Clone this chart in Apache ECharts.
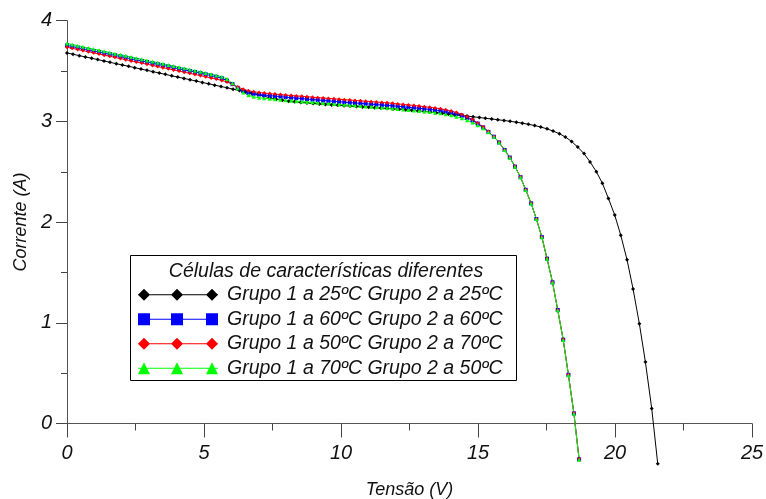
<!DOCTYPE html>
<html>
<head>
<meta charset="utf-8">
<script src="https://cdn.jsdelivr.net/npm/echarts@6/dist/echarts.min.js"></script>
<style>html,body{margin:0;padding:0;background:#fff}#c{width:766px;height:499px}</style>
</head>
<body>
<div id="c"></div>
<script>
const legendTitle = 'Células de características diferentes';
const seriesNames = [
  'Grupo 1 a 25ºC Grupo 2 a 25ºC',
  'Grupo 1 a 60ºC Grupo 2 a 60ºC',
  'Grupo 1 a 50ºC Grupo 2 a 70ºC',
  'Grupo 1 a 70ºC Grupo 2 a 50ºC'
];
const xTicks = [0, 5, 10, 15, 20, 25];
const yTicks = [0, 1, 2, 3, 4];

// Voltage samples (V) of the 25ºC/25ºC curve
const voltsBlack = [0.00,0.22,0.45,0.67,0.90,1.12,1.35,1.57,1.80,2.02,
  2.25,2.47,2.70,2.92,3.14,3.37,3.59,3.82,4.04,4.27,
  4.49,4.72,4.94,5.17,5.39,5.62,5.84,6.06,6.29,6.51,
  6.74,6.96,7.19,7.41,7.64,7.86,8.09,8.31,8.53,8.76,
  8.98,9.21,9.43,9.66,9.88,10.11,10.33,10.56,10.78,11.01,
  11.23,11.45,11.68,11.90,12.13,12.35,12.58,12.80,13.03,13.25,
  13.48,13.70,13.92,14.15,14.37,14.60,14.82,15.05,15.27,15.50,
  15.72,15.95,16.17,16.40,16.62,16.84,17.07,17.29,17.52,17.74,
  17.97,18.19,18.42,18.64,18.87,19.09,19.32,19.54,19.76,19.99,
  20.21,20.44,20.66,20.89,21.11,21.34,21.56];
const ampsG25G25 = [3.680,3.667,3.653,3.640,3.627,3.614,3.600,3.587,3.573,3.560,
  3.547,3.534,3.520,3.507,3.494,3.480,3.467,3.453,3.440,3.427,
  3.414,3.400,3.387,3.373,3.360,3.347,3.334,3.320,3.307,3.294,
  3.280,3.266,3.250,3.234,3.220,3.209,3.200,3.194,3.188,3.183,
  3.178,3.173,3.168,3.164,3.160,3.156,3.152,3.148,3.144,3.140,
  3.136,3.132,3.128,3.124,3.120,3.115,3.110,3.105,3.099,3.093,
  3.087,3.080,3.074,3.067,3.060,3.053,3.046,3.039,3.031,3.024,
  3.017,3.009,3.001,2.992,2.982,2.971,2.959,2.944,2.926,2.904,
  2.878,2.845,2.800,2.745,2.680,2.598,2.500,2.385,2.235,2.070,
  1.870,1.625,1.335,0.990,0.610,0.150,-0.400];

// Voltage samples (V) shared by the three mixed-temperature curves
const voltsMixed = [0.00,0.19,0.39,0.58,0.78,0.97,1.17,1.36,1.56,1.75,
  1.95,2.14,2.34,2.53,2.73,2.92,3.12,3.31,3.50,3.70,
  3.89,4.09,4.28,4.48,4.67,4.87,5.06,5.26,5.45,5.65,
  5.84,6.04,6.23,6.43,6.62,6.81,7.01,7.20,7.40,7.59,
  7.79,7.98,8.18,8.37,8.57,8.76,8.96,9.15,9.35,9.54,
  9.74,9.93,10.12,10.32,10.51,10.71,10.90,11.10,11.29,11.49,
  11.68,11.88,12.07,12.27,12.46,12.66,12.85,13.04,13.24,13.43,
  13.63,13.82,14.02,14.21,14.41,14.60,14.80,14.99,15.19,15.38,
  15.58,15.77,15.97,16.16,16.35,16.55,16.74,16.94,17.13,17.33,
  17.52,17.72,17.91,18.11,18.30,18.50,18.69];
const ampsG60G60 = [3.754,3.743,3.732,3.721,3.710,3.699,3.688,3.677,3.666,3.655,
  3.644,3.633,3.622,3.611,3.599,3.589,3.577,3.567,3.556,3.545,
  3.534,3.522,3.512,3.500,3.490,3.478,3.467,3.455,3.443,3.428,
  3.405,3.370,3.333,3.303,3.285,3.274,3.267,3.261,3.256,3.251,
  3.246,3.241,3.236,3.232,3.227,3.222,3.217,3.213,3.208,3.204,
  3.199,3.195,3.191,3.187,3.183,3.179,3.175,3.171,3.167,3.163,
  3.159,3.155,3.150,3.145,3.140,3.135,3.130,3.125,3.119,3.113,
  3.106,3.097,3.087,3.074,3.057,3.036,3.010,2.978,2.940,2.896,
  2.848,2.791,2.716,2.641,2.551,2.446,2.321,2.186,2.031,1.851,
  1.637,1.402,1.127,0.832,0.483,0.100,-0.356];
const ampsG50G70 = [3.737,3.726,3.714,3.703,3.692,3.681,3.669,3.658,3.647,3.636,
  3.624,3.613,3.601,3.590,3.579,3.568,3.556,3.545,3.534,3.522,
  3.511,3.500,3.489,3.477,3.466,3.455,3.443,3.432,3.420,3.407,
  3.391,3.368,3.342,3.320,3.304,3.294,3.287,3.281,3.276,3.271,
  3.266,3.261,3.257,3.253,3.249,3.245,3.240,3.236,3.232,3.228,
  3.224,3.220,3.216,3.212,3.208,3.204,3.200,3.196,3.192,3.188,
  3.184,3.179,3.174,3.169,3.164,3.158,3.152,3.146,3.140,3.133,
  3.125,3.115,3.103,3.088,3.069,3.046,3.018,2.984,2.944,2.899,
  2.849,2.792,2.717,2.642,2.552,2.447,2.322,2.187,2.032,1.852,
  1.638,1.403,1.128,0.833,0.485,0.104,-0.352];
const ampsG70G50 = [3.774,3.763,3.752,3.741,3.729,3.718,3.707,3.696,3.684,3.673,
  3.662,3.651,3.639,3.628,3.617,3.606,3.594,3.583,3.572,3.560,
  3.549,3.538,3.527,3.515,3.504,3.493,3.481,3.469,3.457,3.443,
  3.420,3.378,3.330,3.288,3.260,3.245,3.236,3.229,3.224,3.219,
  3.214,3.209,3.205,3.201,3.197,3.193,3.189,3.185,3.181,3.177,
  3.173,3.169,3.165,3.161,3.157,3.153,3.149,3.145,3.141,3.137,
  3.133,3.129,3.124,3.119,3.114,3.109,3.104,3.099,3.093,3.087,
  3.080,3.071,3.060,3.047,3.031,3.012,2.990,2.963,2.932,2.893,
  2.847,2.790,2.715,2.640,2.550,2.445,2.320,2.185,2.030,1.850,
  1.635,1.400,1.125,0.830,0.480,0.096,-0.360];

const FONT = '"Liberation Sans", Arial, sans-serif';
const pair = (xs, ys) => xs.map((x, i) => [x, ys[i]]);

const seriesDefs = [
  {name: seriesNames[0], x: voltsBlack, y: ampsG25G25, color: '#000000', symbol: 'diamond', size: 4},
  {name: seriesNames[1], x: voltsMixed, y: ampsG60G60, color: '#0000ff', symbol: 'rect', size: 4},
  {name: seriesNames[2], x: voltsMixed, y: ampsG50G70, color: '#ff0000', symbol: 'diamond', size: 4},
  {name: seriesNames[3], x: voltsMixed, y: ampsG70G50, color: '#00ff00', symbol: 'triangle', size: 4}
];
const lineBar = 'M0,5.5L80,5.5L80,6.5L0,6.5Z ';
const icons = [
  'path://' + lineBar + 'M0,6L6,0L12,6L6,12Z M33,6L39,0L45,6L39,12Z M68,6L74,0L80,6L74,12Z',
  'path://' + lineBar + 'M0,0L12,0L12,12L0,12Z M33,0L45,0L45,12L33,12Z M68,0L80,0L80,12L68,12Z',
  'path://' + lineBar + 'M0,6L6,0L12,6L6,12Z M33,6L39,0L45,6L39,12Z M68,6L74,0L80,6L74,12Z',
  'path://' + lineBar + 'M0,12L6,0L12,12Z M33,12L39,0L45,12Z M68,12L74,0L80,12Z'
];

const chart = echarts.init(document.getElementById('c'), null, {renderer: 'canvas'});
chart.setOption({
  animation: false,
  backgroundColor: '#ffffff',
  grid: {left: 67, right: 14, top: 20.7, bottom: 75.5, containLabel: false, outerBoundsMode: 'none'},
  xAxis: {
    type: 'value', min: xTicks[0], max: xTicks[xTicks.length - 1], interval: 5,
    name: 'Tensão (V)', nameLocation: 'middle', nameGap: 57,
    nameTextStyle: {fontFamily: FONT, fontStyle: 'italic', fontSize: 18, color: '#111'},
    axisLine: {show: true, onZero: false, lineStyle: {color: '#555', width: 1}},
    axisTick: {show: true, inside: false, length: 14, lineStyle: {color: '#444'}},
    minorTick: {show: true, splitNumber: 2, length: 7, lineStyle: {color: '#444'}},
    axisLabel: {fontFamily: FONT, fontStyle: 'italic', fontSize: 20, color: '#111', margin: 20},
    splitLine: {show: false}
  },
  yAxis: {
    type: 'value', min: yTicks[0], max: yTicks[yTicks.length - 1], interval: 1,
    name: 'Corrente (A)', nameLocation: 'middle', nameGap: 37,
    nameTextStyle: {fontFamily: FONT, fontStyle: 'italic', fontSize: 18, color: '#111'},
    axisLine: {show: true, lineStyle: {color: '#555', width: 1}},
    axisTick: {show: true, inside: false, length: 11, lineStyle: {color: '#444'}},
    minorTick: {show: true, splitNumber: 2, length: 6, lineStyle: {color: '#444'}},
    axisLabel: {fontFamily: FONT, fontStyle: 'italic', fontSize: 20, color: '#111', margin: 15},
    splitLine: {show: false}
  },
  legend: {
    orient: 'vertical', left: 138, top: 284.5, padding: 0, itemGap: 4,
    itemWidth: 80, itemHeight: 12, z: 10,
    data: seriesDefs.map((s, i) => ({name: s.name, icon: icons[i]})),
    textStyle: {fontFamily: FONT, fontStyle: 'italic', fontSize: 19.5, color: '#111', lineHeight: 20.5, padding: [0, 0, 0, 4]}
  },
  graphic: [
    {type: 'rect', z: 1, shape: {x: 130.5, y: 255.5, width: 386, height: 125},
      style: {fill: '#fff', stroke: '#000', lineWidth: 1}},
    {type: 'text', z: 11, x: 326, y: 272,
      style: {text: legendTitle, fontFamily: FONT, fontStyle: 'italic', fontSize: 19.5, fill: '#111',
        textAlign: 'center', textVerticalAlign: 'middle'}}
  ],
  series: seriesDefs.map(s => ({
    type: 'line', name: s.name, data: pair(s.x, s.y), clip: false,
    symbol: s.symbol, symbolSize: s.size, showSymbol: true,
    lineStyle: {color: s.color, width: 1},
    itemStyle: {color: s.color},
    emphasis: {disabled: true}
  }))
});
</script>
</body>
</html>
